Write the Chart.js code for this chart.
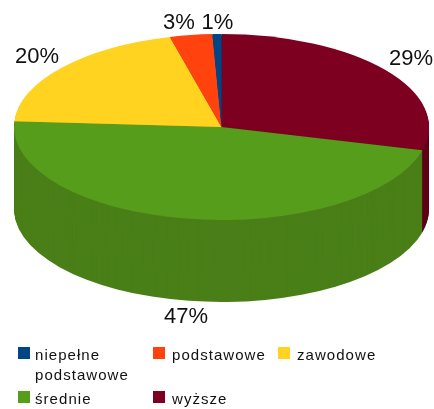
<!DOCTYPE html>
<html>
<head>
<meta charset="utf-8">
<script src="https://cdn.jsdelivr.net/npm/chart.js@4"></script>
<style>
html,body{margin:0;padding:0;background:#fff;}
#wrap{position:relative;width:434px;height:409px;overflow:hidden;font-family:"Liberation Sans",Arial,sans-serif;}
#pie{position:absolute;left:0;top:0;}
.sw{position:absolute;width:12px;height:12px;}
.lg{position:absolute;font-size:15px;line-height:20px;letter-spacing:1.05px;color:#111;}
</style>
</head>
<body>
<div id="wrap"><canvas id="pie" width="434" height="409"></canvas></div>
<script>
// legend order
let categories = ["niepełne podstawowe", "podstawowe", "zawodowe", "średnie", "wyższe"];
let values = [0.7, 3.3, 20, 47, 29];
let colors = ["#004586", "#ff420e", "#ffd320", "#579d1c", "#7e0021"];
let sideColors = ["#003565", "#bf310a", "#bf9e18", "#4a7f18", "#5e0019"];

// percent labels, legend order
let labelX = [217.5, 179, 37, 186, 411];
let labelY = [29, 29, 63, 323, 65];

// legend placement
let legendX = [18, 153, 278, 18, 153];
let legendY = [347, 347, 347, 391, 391];
let legendTextX = [35, 172, 297, 35, 172];
let legendW = [110, 120, 130, 110, 120];

/* tilt of the pie */
let centerY = 127;
let radius = 207.5;
let squash = 93 / 207.5;
let depth = 82;

function tilt(ctx, chart){
let meta = chart.getDatasetMeta(0);
let arc = meta.data[0];
ctx.translate(0, centerY);
ctx.scale(1, squash);
ctx.translate(0, -arc.y);
}

let pie3d = {
id:"pie3d",
beforeDatasetsDraw(chart){
let ctx = chart.ctx;
let arcs = chart.getDatasetMeta(0).data;
let sides = sideColors.slice().reverse();
for(let d = depth; d > 0; d--){
ctx.save();
ctx.translate(0, d);
tilt(ctx, chart);
arcs.forEach(function(arc, i){
let orig = arc.options;
arc.options = Object.assign({}, orig, {backgroundColor:sides[i]});
arc.draw(ctx);
arc.options = orig;
});
ctx.restore();
}
ctx.save();
tilt(ctx, chart);
},
afterDatasetsDraw(chart){
chart.ctx.restore();
},
afterDraw(chart){
let ctx = chart.ctx;
ctx.save();
ctx.font = '22px "Liberation Sans", Arial, sans-serif';
ctx.fillStyle = "#111";
ctx.textAlign = "center";
ctx.textBaseline = "alphabetic";
values.forEach(function(v, i){
ctx.fillText(Math.round(v) + "%", labelX[i], labelY[i]);
});
ctx.restore();
}
};

/* Chart.js draws clockwise, the picture runs the other way round from the legend */
new Chart(document.getElementById("pie"), {
type:"pie",
data:{
labels:categories.slice().reverse(),
datasets:[{
data:values.slice().reverse(),
backgroundColor:colors.slice().reverse(),
borderWidth:0,
radius:radius,
clip:false
}]
},
options:{
responsive:false,
animation:false,
layout:{padding:{left:14, right:5, top:0, bottom:0}},
plugins:{legend:{display:false}, tooltip:{enabled:false}}
},
plugins:[pie3d]
});

/* LEGEND */
let wrap = document.getElementById("wrap");
categories.forEach(function(name, i){
let sw = document.createElement("div");
sw.className = "sw";
sw.style.left = legendX[i] + "px";
sw.style.top = legendY[i] + "px";
sw.style.background = colors[i];
wrap.appendChild(sw);
let t = document.createElement("div");
t.className = "lg";
t.style.left = legendTextX[i] + "px";
t.style.top = (legendY[i] - 2) + "px";
t.style.width = legendW[i] + "px";
t.innerText = name;
wrap.appendChild(t);
});
</script>
</body>
</html>
